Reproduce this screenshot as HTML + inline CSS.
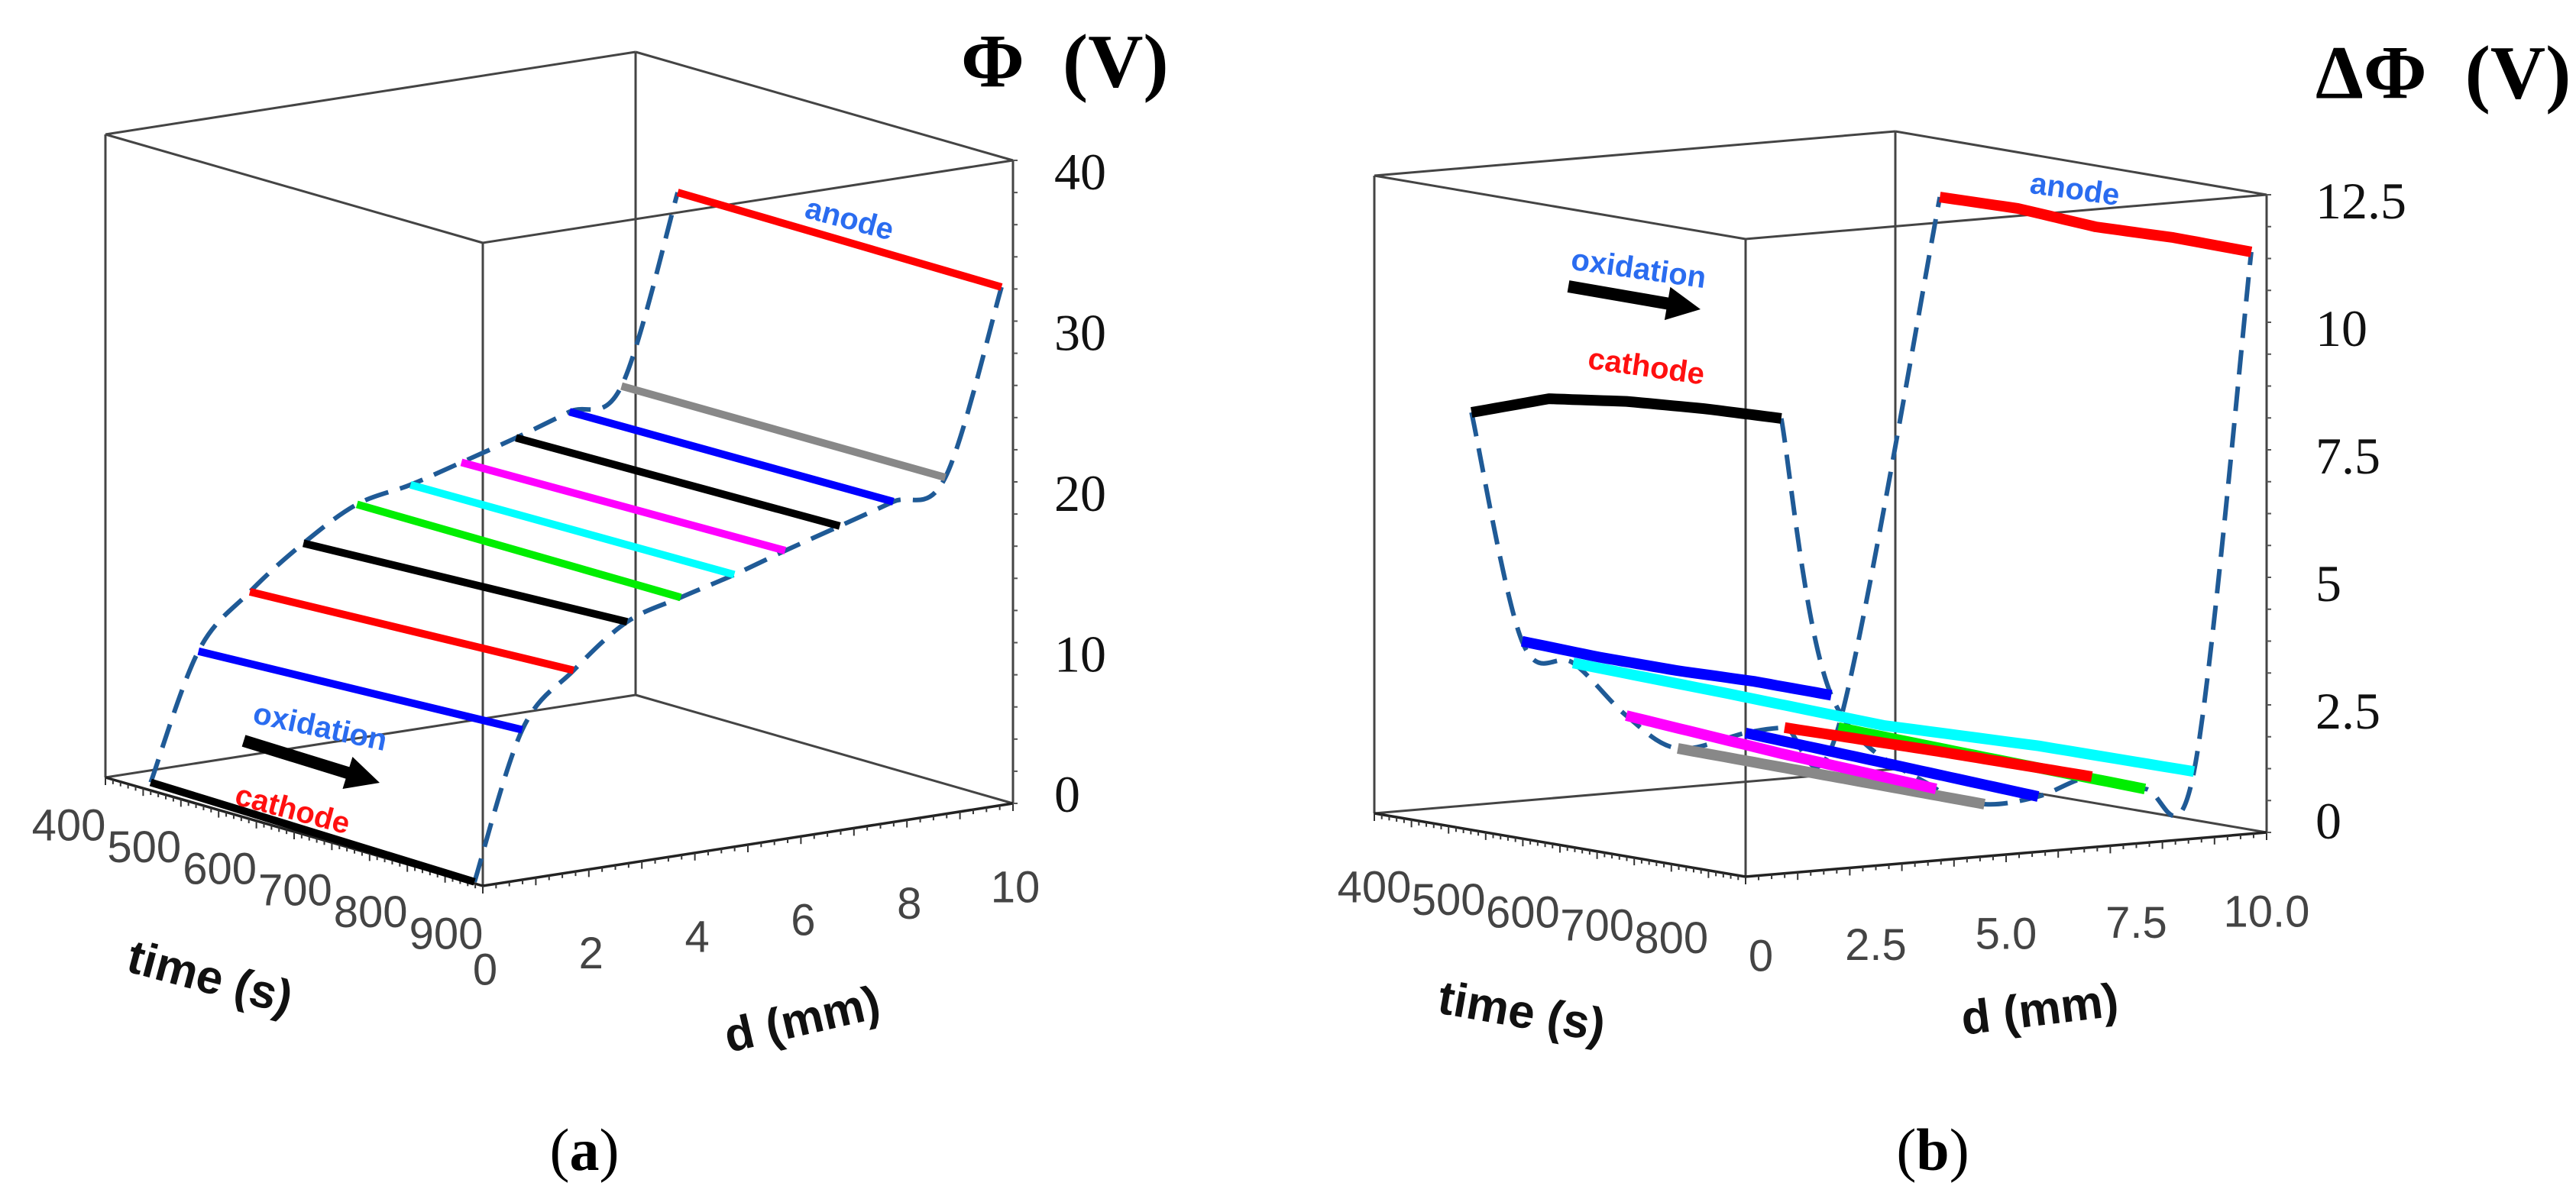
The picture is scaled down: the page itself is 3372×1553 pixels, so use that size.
<!DOCTYPE html>
<html><head><meta charset="utf-8"><style>
html,body{margin:0;padding:0;background:#fff;}
svg{display:block;}
.tick{font-family:"Liberation Sans",sans-serif;fill:#444;font-size:58px;}
.ztick{font-family:"Liberation Serif",serif;fill:#111;font-size:68px;}
.ttl{font-family:"Liberation Serif",serif;font-weight:bold;font-size:100px;fill:#000;}
.axt{font-family:"Liberation Sans",sans-serif;font-weight:bold;font-size:62px;fill:#111;}
.ann{font-family:"Liberation Sans",sans-serif;font-weight:bold;font-size:40px;}
.cap{font-family:"Liberation Serif",serif;font-size:78px;fill:#000;}
</style></head><body>
<svg id="fig" width="3372" height="1553" viewBox="0 0 3372 1553" xmlns="http://www.w3.org/2000/svg">
<g id="pa"></g>
<g id="pb"></g>
</svg>
<script>
// ---------- Panel (a) data ----------
const aTimeTicks = [400,500,600,700,800,900];
const aDTicks = [0,2,4,6,8,10];
const aZTicks = [0,10,20,30,40];
const aNames = ['cathode','blue-1','red-1','black-1','green','cyan','magenta','black-2','blue-2','gray','anode'];
const aColors = ['#000000','#0000ff','#ff0000','#000000','#00ee00','#00ffff','#ff00ff','#000000','#0000ff','#888888','#ff0000'];
const aD = [0,0.9,1.87,2.88,3.89,4.9,5.86,6.89,7.9,8.88,9.94];
const aStart = [0.5,8.2,11.4,13.9,15.8,16.5,17.4,18.4,19.5,20.6,32.1];
const aEnd = [0.1,9.1,12.3,14.8,15.8,16.7,17.7,18.7,19.7,20.7,32.0];
// ---------- Panel (b) data ----------
const bTimeTicks = [400,500,600,700,800];
const bDTicks = [0,2.5,5,7.5,10];
const bDLabels = ['0','2.5','5.0','7.5','10.0'];
const bZTicks = [0,2.5,5,7.5,10,12.5];
const bNames = ['gray','magenta','blue-2','green','red-mid','cyan','blue-1','cathode','anode'];
const bColors = ['#888888','#ff00ff','#0000ff','#00ee00','#ff0000','#00ffff','#0000ff','#000000','#ff0000'];
const bD0 = [4.97,3.98,6.27,8.05,7.02,2.96,1.98,1.01,10.0];
const bD1 = [4.87,3.94,5.9,7.95,6.93,8.89,1.93,0.97,9.99];
const bGray = [0.99,0.97,0.95];
const bMagenta = [1.72,1.5,1.33];
const bBlue2 = [1.18,1.1,1.01];
const bGreen = [1.13,1.05,0.98];
const bRed = [1.22,1.28,1.31];
const bCyan = [2.84,2.37,1.88,1.61,1.24];
const bBlue1 = [3.35,3.3,3.3,3.35,3.34];
const bCathode = [7.92,8.45,8.66,8.78,8.85];
const bAnode = [11.36,11.4,11.3,11.35,11.33];
const bValues = [bGray,bMagenta,bBlue2,bGreen,bRed,bCyan,bBlue1,bCathode,bAnode];

const NS='http://www.w3.org/2000/svg';
function mk(parent,tag,attrs,text){const e=document.createElementNS(NS,tag);for(const k in attrs)e.setAttribute(k,attrs[k]);if(text!==undefined)e.textContent=text;parent.appendChild(e);return e;}
function projA(t,d,v){const f=(900-t)/500;return [632-494*f+69.4*d,1160-142*f-10.8*d-21.05*v];}
function projB(t,d,v){const f=(900-t)/500;return [2285-486*f+68.2*d,1148-83*f-5.8*d-66.8*v];}
function crPath(pts){let s='M'+pts[0][0].toFixed(1)+','+pts[0][1].toFixed(1);
 for(let i=0;i<pts.length-1;i++){const p0=pts[Math.max(0,i-1)],p1=pts[i],p2=pts[i+1],p3=pts[Math.min(pts.length-1,i+2)];
  const c1=[p1[0]+(p2[0]-p0[0])/6,p1[1]+(p2[1]-p0[1])/6],c2=[p2[0]-(p3[0]-p1[0])/6,p2[1]-(p3[1]-p1[1])/6];
  s+=' C'+c1[0].toFixed(1)+','+c1[1].toFixed(1)+' '+c2[0].toFixed(1)+','+c2[1].toFixed(1)+' '+p2[0].toFixed(1)+','+p2[1].toFixed(1);}
 return s;}
function box(g,P,tmin,tmax,dmax,vmax){
 const c=(t,d,v)=>P(t,d,v);
 const edges=[[[tmin,0,0],[tmin,0,vmax]],[[tmin,dmax,0],[tmin,dmax,vmax]],[[tmax,dmax,0],[tmax,dmax,vmax]],[[tmax,0,0],[tmax,0,vmax]],
  [[tmin,0,vmax],[tmin,dmax,vmax]],[[tmin,dmax,vmax],[tmax,dmax,vmax]],[[tmax,dmax,vmax],[tmax,0,vmax]],[[tmax,0,vmax],[tmin,0,vmax]],
  [[tmin,0,0],[tmin,dmax,0]],[[tmin,dmax,0],[tmax,dmax,0]],[[tmax,dmax,0],[tmax,0,0]],[[tmax,0,0],[tmin,0,0]]];
 const bg=mk(g,'g',{});
 
 
 edges.forEach((e,i)=>{const a=c(...e[0]),b=c(...e[1]);
  const l=mk(bg,'line',{x1:a[0],y1:a[1],x2:b[0],y2:b[1],stroke:i>=10?'#222':'#444','stroke-width':i>=10?3.5:3});
  
  });
 for(let k=0;k<=50;k++){const t=tmin+(tmax-tmin)*k/50;const a=c(t,0,0);
  mk(bg,'line',{x1:a[0],y1:a[1],x2:a[0],y2:a[1]+(k%5==0?10:6),stroke:'#333','stroke-width':2});}
 for(let k=0;k<=40;k++){const d=dmax*k/40;const a=c(tmax,d,0);
  mk(bg,'line',{x1:a[0],y1:a[1],x2:a[0],y2:a[1]+(k%4==0?10:6),stroke:'#333','stroke-width':2});}
 for(let k=0;k<=20;k++){const v=vmax*k/20;const a=c(tmax,dmax,v);
  mk(bg,'line',{x1:a[0],y1:a[1],x2:a[0]+6,y2:a[1],stroke:'#555','stroke-width':2});}
}
function arrow(g,x1,y1,x2,y2,name){
 const ang=Math.atan2(y2-y1,x2-x1),L=Math.hypot(x2-x1,y2-y1);
 const a=mk(g,'g',{transform:`translate(${x1},${y1}) rotate(${ang*180/Math.PI})`});
 
 
 mk(a,'rect',{x:0,y:-8,width:L-40,height:16,fill:'#000'});
 mk(a,'polygon',{points:`${L-44},-22 ${L},0 ${L-44},22`,fill:'#000'});
}
function txt(g,x,y,s,cls,name,extra){const e=mk(g,'text',Object.assign({x:x,y:y,class:cls,'text-anchor':'middle','dominant-baseline':'central'},extra||{}),s);
 
 return e;}

// ===== Panel A =====
(function(){
 const g=document.getElementById('pa');
 box(g,projA,400,900,10,40);
 const T0=460,T1=889;
 const back=aD.map((d,i)=>projA(T0,d,aStart[i]));
 const front=aD.map((d,i)=>projA(T1,d,aEnd[i]));
 [[back,'profile-dashed-early'],[front,'profile-dashed-late']].forEach(([pts,n])=>{
  const p=mk(g,'path',{d:crPath(pts),fill:'none',stroke:'#1f5a96','stroke-width':6,'stroke-dasharray':'32 16'});
  
  });
 aD.forEach((d,i)=>{const a=projA(T0,d,aStart[i]),b=projA(T1,d,aEnd[i]);
  const l=mk(g,'line',{x1:a[0],y1:a[1],x2:b[0],y2:b[1],stroke:aColors[i],'stroke-width':10,'stroke-linecap':'butt'});
  
  });
 aTimeTicks.forEach(t=>{const p=projA(t,0,0);txt(g,p[0]-48,p[1]+63,String(t),'tick','time-tick-label');});
 aDTicks.forEach(d=>{const p=projA(900,d,0);txt(g,p[0]+3,p[1]+110,String(d),'tick','d-tick-label');});
 aZTicks.forEach(v=>{const p=projA(900,10,v);txt(g,1380,Math.min(p[1]+15,1040),String(v),'ztick','phi-tick-label',{'text-anchor':'start'});});
 txt(g,1258,80,'Φ\u00a0\u00a0(V)','ttl','z-axis-title',{'text-anchor':'start'});
 txt(g,275,1280,'time (s)','axt','time-axis-title',{transform:'rotate(15 275 1280)'});
 txt(g,1050,1335,'d (mm)','axt','d-axis-title',{transform:'rotate(-13 1050 1335)'});
 txt(g,419,952,'oxidation','ann','oxidation-label',{fill:'#2a6cf0',transform:'rotate(12 419 952)'});
 arrow(g,319,970,497,1025,'oxidation-arrow');
 txt(g,383,1060,'cathode','ann','cathode-label',{fill:'#ff1010',transform:'rotate(15 383 1060)'});
 txt(g,1112,287,'anode','ann','anode-label',{fill:'#2a6cf0',transform:'rotate(15 1112 287)'});
 const c=txt(g,765,1505,'','cap','caption-a');
 mk(c,'tspan',{},'(');mk(c,'tspan',{'font-weight':'bold'},'a');mk(c,'tspan',{},')');
})();

// ===== Panel B =====
(function(){
 const g=document.getElementById('pb');
 box(g,projB,400,900,10,12.5);
 const T0=460,T1=880;
 const pt=(i,s)=>{const vals=bValues[i];const k=s*(vals.length-1);const j=Math.min(vals.length-2,Math.floor(k));const v=vals[j]+(vals[j+1]-vals[j])*(k-j);
  return projB(T0+(T1-T0)*s,bD0[i]+(bD1[i]-bD0[i])*s,v);};
 const idx=bD0.map((d,i)=>i);
 const back=idx.slice().sort((a,b)=>bD0[a]-bD0[b]).map(i=>pt(i,0));
 const front=idx.slice().sort((a,b)=>bD1[a]-bD1[b]).map(i=>pt(i,1));
 [[back,'profile-dashed-early'],[front,'profile-dashed-late']].forEach(([pts,n])=>{
  const p=mk(g,'path',{d:crPath(pts),fill:'none',stroke:'#1f5a96','stroke-width':6,'stroke-dasharray':'32 16'});
  
  });
 idx.forEach(i=>{const pts=[];for(let k=0;k<=40;k++)pts.push(pt(i,k/40));
  const l=mk(g,'polyline',{points:pts.map(p=>p[0].toFixed(1)+','+p[1].toFixed(1)).join(' '),fill:'none',stroke:bColors[i],'stroke-width':14,'stroke-linejoin':'round'});
  
  });
 bTimeTicks.forEach(t=>{const p=projB(t,0,0);txt(g,p[0],p[1]+97,String(t),'tick','time-tick-label');});
 bDTicks.forEach((d,i)=>{const p=projB(900,d,0);txt(g,p[0]+(i==0?20:0),p[1]+104,bDLabels[i],'tick','d-tick-label');});
 bZTicks.forEach(v=>{const p=projB(900,10,v);txt(g,3031,Math.min(p[1]+8,1075),String(v),'ztick','dphi-tick-label',{'text-anchor':'start'});});
 txt(g,3031,95,'ΔΦ\u00a0\u00a0(V)','ttl','z-axis-title',{'text-anchor':'start'});
 txt(g,1992,1325,'time (s)','axt','time-axis-title',{transform:'rotate(10 1992 1325)'});
 txt(g,2670,1322,'d (mm)','axt','d-axis-title',{transform:'rotate(-7 2670 1322)'});
 txt(g,2145,352,'oxidation','ann','oxidation-label',{fill:'#2a6cf0',transform:'rotate(8 2145 352)'});
 arrow(g,2053,375,2226,405,'oxidation-arrow');
 txt(g,2155,480,'cathode','ann','cathode-label',{fill:'#ff1010',transform:'rotate(8 2155 480)'});
 txt(g,2716,248,'anode','ann','anode-label',{fill:'#2a6cf0',transform:'rotate(8 2716 248)'});
 const c=txt(g,2530,1505,'','cap','caption-b');
 mk(c,'tspan',{},'(');mk(c,'tspan',{'font-weight':'bold'},'b');mk(c,'tspan',{},')');
})();
</script>
</body></html>
